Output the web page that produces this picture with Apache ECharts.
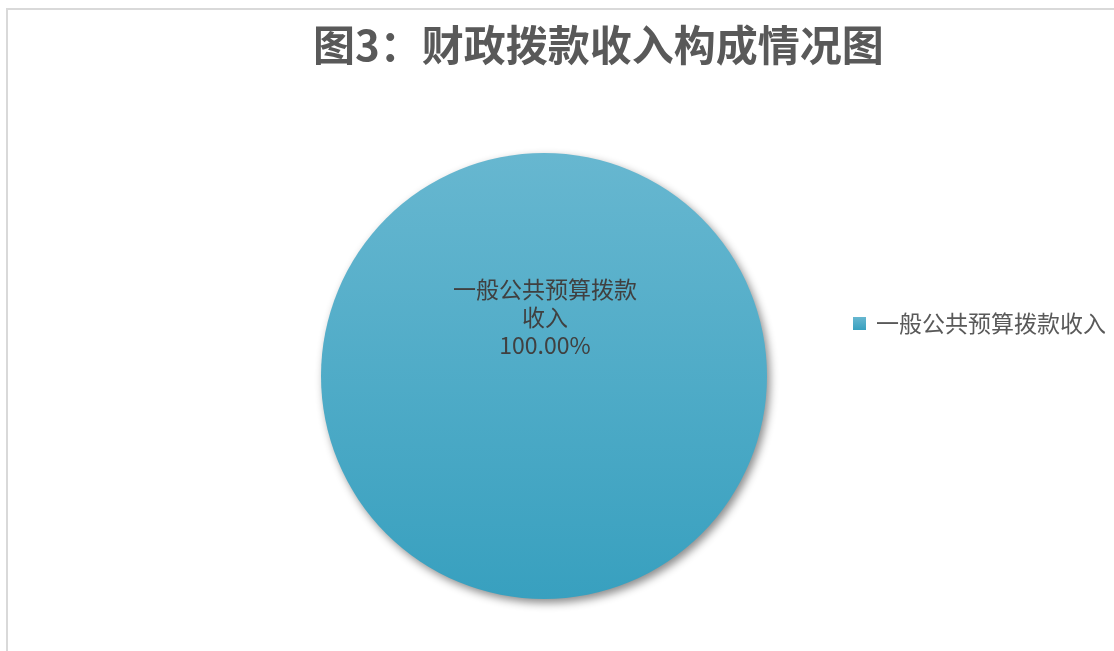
<!DOCTYPE html>
<html>
<head>
<meta charset="utf-8">
<script src="https://cdn.jsdelivr.net/npm/echarts@6/dist/echarts.min.js"></script>
<style>
html,body{margin:0;padding:0;background:#fff;}
#chart{width:1114px;height:651px;}
</style>
</head>
<body>
<div id="chart"></div>
<script>
const titleText = '图3：财政拨款收入构成情况图';
const categories = ['一般公共预算拨款收入'];
const values = [100];

const chart = echarts.init(document.getElementById('chart'));
const option = {
  backgroundColor: '#fff',
  animation: false,
  title: {
    text: titleText,
    left: 313,
    top: 24,
    padding: 0,
    textStyle: {
      fontFamily: 'Noto Sans CJK SC',
      fontSize: 42,
      fontWeight: 'bold',
      color: '#595959'
    }
  },
  legend: {
    orient: 'vertical',
    left: 853,
    top: 312,
    padding: 0,
    itemWidth: 13,
    itemHeight: 13,
    icon: 'rect',
    textStyle: {
      fontFamily: 'Noto Sans CJK SC',
      fontSize: 23,
      color: '#595959',
      padding: [0, 0, 0, 5]
    },
    data: categories
  },
  graphic: [{
    type: 'rect',
    shape: {x: 7, y: 9, width: 1300, height: 800},
    style: {fill: 'none', stroke: '#d9d9d9', lineWidth: 2},
    silent: true
  }],
  series: [{
    type: 'pie',
    center: [544, 376],
    radius: 223,
    startAngle: 90,
    avoidLabelOverlap: false,
    itemStyle: {
      color: new echarts.graphic.LinearGradient(0, 0, 0, 1, [
        {offset: 0, color: '#67b7d0'},
        {offset: 1, color: '#38a0bf'}
      ]),
      shadowBlur: 8,
      shadowOffsetX: 3,
      shadowOffsetY: 4,
      shadowColor: 'rgba(0,0,0,0.45)'
    },
    label: {
      show: true,
      position: 'center',
      offset: [1, -59],
      formatter: function (p) { return '一般公共预算拨款\n收入\n' + p.percent.toFixed(2) + '%'; },
      fontFamily: 'Noto Sans CJK SC',
      fontSize: 23,
      lineHeight: 28,
      color: '#404040',
      align: 'center'
    },
    labelLine: {show: false},
    emphasis: {disabled: true},
    data: categories.map((c, i) => ({name: c, value: values[i]}))
  }]
};
chart.setOption(option);
</script>
</body>
</html>
